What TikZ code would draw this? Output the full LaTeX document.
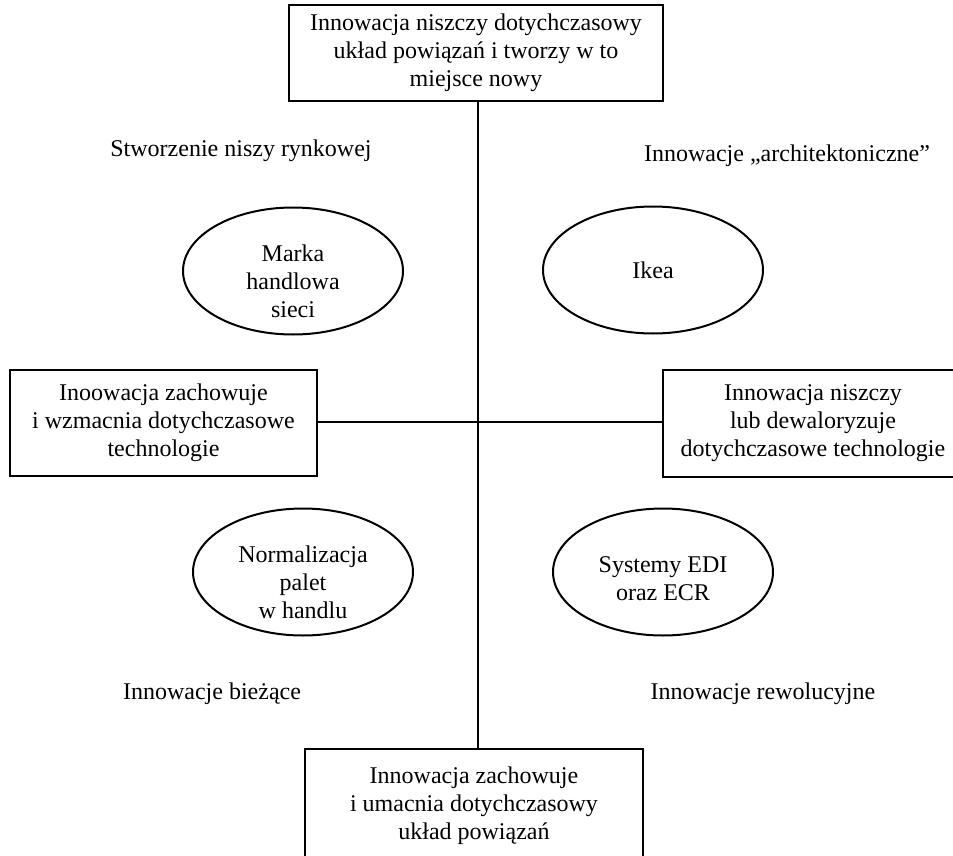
\documentclass[tikz,border=0pt]{standalone}
\usepackage{fontspec}
\setmainfont{Liberation Serif}
\usetikzlibrary{shapes,positioning}

\begin{document}
\begin{tikzpicture}[x=0.5pt, y=-0.5pt,
    font=\fontsize{12}{14}\selectfont,
    box/.style={rectangle, draw, line width=1.2pt, align=center, inner sep=0pt},
    oval/.style={ellipse, draw, line width=1pt, inner sep=0pt,
        minimum width=110pt, minimum height=63.5pt},
    ovaltext/.style={align=center, inner sep=0pt},
    link/.style={line width=0.6pt}]
    \useasboundingbox (0,0) rectangle (953,856);

    \node (top) [box, minimum width=187pt, minimum height=48pt] at (476,53) {Innowacja niszczy dotychczasowy\\układ powiązań i tworzy w to\\miejsce nowy};
    \node (left) [box, minimum width=153.5pt, minimum height=53pt] at (163.5,423) {Inoowacja zachowuje\\i wzmacnia dotychczasowe\\technologie};
    \node (right) [box, minimum width=150pt, minimum height=53.5pt] at (813,423.5) {Innowacja niszczy\\lub dewaloryzuje\\dotychczasowe technologie};
    \node (bottom) [box, minimum width=169pt, minimum height=57pt] at (474,806) {Innowacja zachowuje\\i umacnia dotychczasowy\\układ powiązań};

    % elipsy z przykladami
    \node (marka) [oval] at (293,271) {};
    \node (ikea) [oval] at (653,270) {};
    \node (palety) [oval] at (303,572) {};
    \node (edi) [oval] at (663,572) {};
    \node (markaText) [ovaltext, yshift=-5pt] at (marka) {Marka\\handlowa\\sieci};
    \node (ikeaText) [ovaltext] at (ikea) {Ikea};
    \node (paletyText) [ovaltext, yshift=-5pt] at (palety) {Normalizacja\\palet\\w handlu};
    \node (ediText) [ovaltext, yshift=-3.5pt] at (edi) {Systemy EDI\\oraz ECR};

    \node (nisza) at (241,151) {Stworzenie niszy rynkowej};
    \node (archi) at (787,156) {Innowacje „architektoniczne”};
    \node (biezace) at (212,694) {Innowacje bieżące};
    \node (rewol) at (763,694) {Innowacje rewolucyjne};

    \coordinate (mid) at (478,422);
    \draw [link] (top.south -| mid) -- (bottom.north -| mid);
    \draw [link] (left.east |- mid) -- (right.west |- mid);
\end{tikzpicture}
\end{document}
